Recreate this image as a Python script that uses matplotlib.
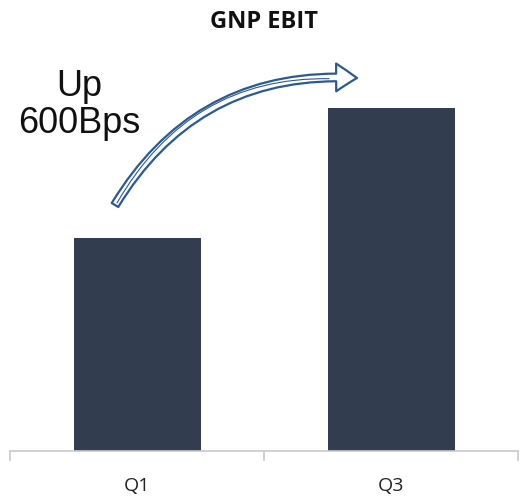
import matplotlib.pyplot as plt

quarters = ['Q1', 'Q3']
ebit = [9.8, 15.8]
bar_color = '#323e50'
axis_gray = '#c9c9c9'

fig = plt.figure(figsize=(5.2, 5.01), dpi=100)
ax = fig.add_axes([10 / 520, 50 / 501, 508 / 520, 413 / 501])

ax.bar(range(len(quarters)), ebit, width=0.5, color=bar_color)
ax.set_xlim(-0.5, 1.5)
ax.set_ylim(0, 19)

# category boundary ticks, labels sit on the minor ticks in between
for s in ['top', 'right', 'left']:
    ax.spines[s].set_visible(False)
ax.spines['bottom'].set_color(axis_gray)
ax.spines['bottom'].set_linewidth(1.2)
ax.set_yticks([])
ax.set_xticks([-0.5, 0.5, 1.5])
ax.set_xticklabels([])
ax.tick_params(axis='x', which='major', length=7, width=1.2, color=axis_gray, direction='out')
ax.set_xticks(range(len(quarters)), minor=True)
ax.set_xticklabels(quarters, minor=True, fontsize=14, family='Open Sans', color='#222222')
ax.tick_params(axis='x', which='minor', length=0, pad=19)

fig.text(264 / 520, 1 - 22 / 501, 'GNP EBIT', ha='center', va='center',
         fontsize=17, fontweight='bold', family='Open Sans', color='#111111')

fig.text(79 / 520, 1 - 105 / 501, 'Up\n600Bps', ha='center', va='center',
         fontsize=26, family='Liberation Sans', linespacing=1.05, color='#111111')

# hand drawn style arrow
arrow_blue = '#2b5a92'
ax.annotate('', xy=(357, 423), xycoords='figure pixels',
            xytext=(115, 296), textcoords='figure pixels',
            arrowprops=dict(arrowstyle='simple,head_length=1.5,head_width=2.0,tail_width=0.55',
                            fc='white', ec=arrow_blue, lw=1.6,
                            connectionstyle='arc3,rad=-0.3', shrinkA=0, shrinkB=0))
ax.annotate('', xy=(354, 421), xycoords='figure pixels',
            xytext=(117, 298), textcoords='figure pixels',
            arrowprops=dict(arrowstyle='-', color=arrow_blue, lw=0.8,
                            connectionstyle='arc3,rad=-0.32', shrinkA=0, shrinkB=18))

fig.savefig('out.png', dpi=100)
